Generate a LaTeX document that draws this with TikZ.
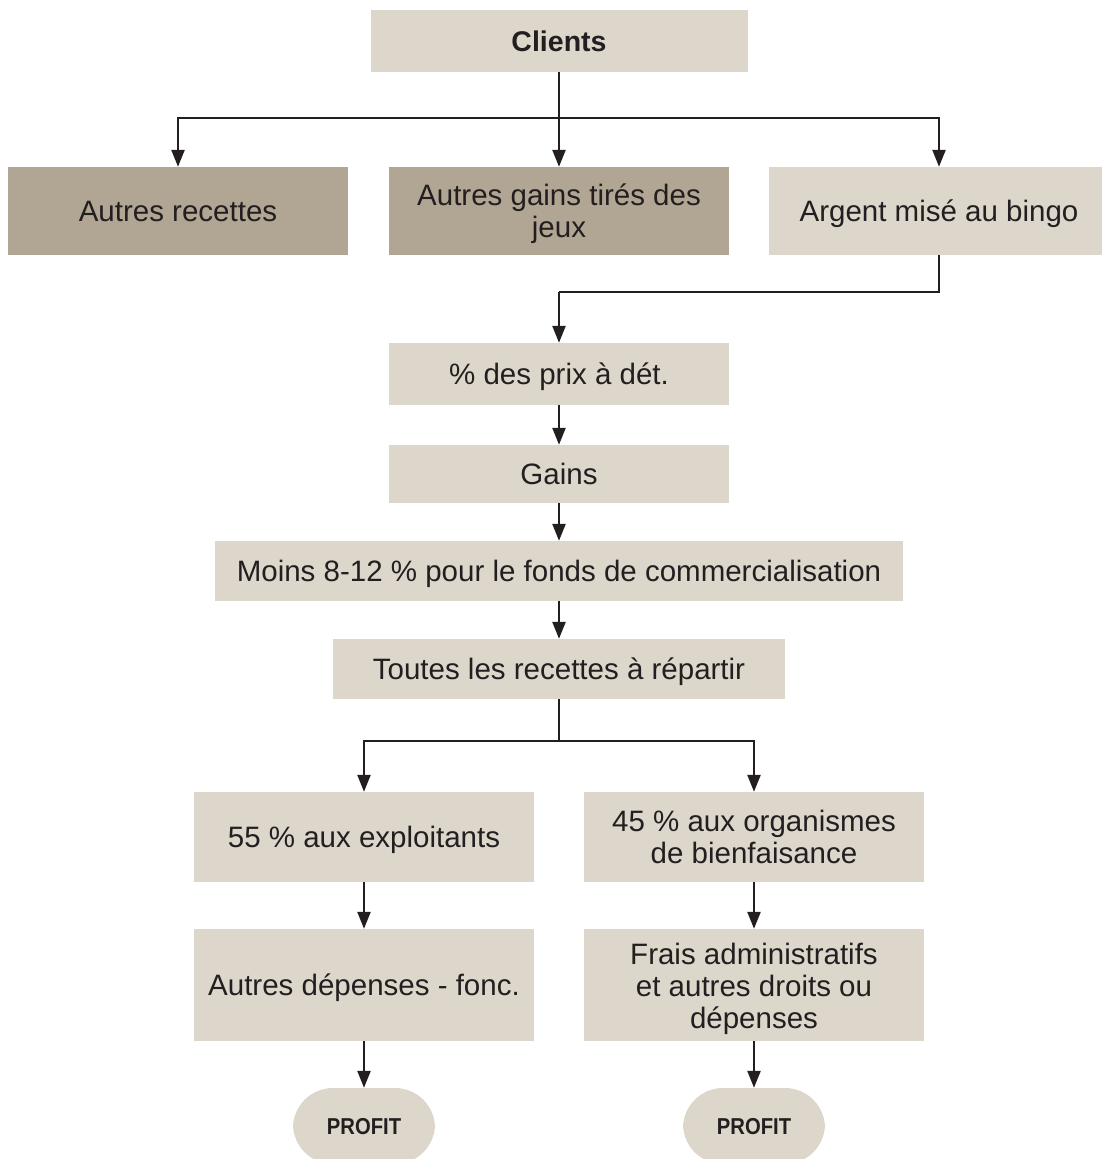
\documentclass[tikz,border=0pt]{standalone}
\usepackage{fontspec}
\setmainfont{Liberation Sans}
\usepackage{xcolor}
\usetikzlibrary{arrows.meta}

\definecolor{lightbox}{HTML}{DDD6CB}
\definecolor{darkbox}{HTML}{B1A694}
\definecolor{ink}{HTML}{231F20}

\begin{document}
\begin{tikzpicture}[x=1pt,y=-1pt]
    \tikzstyle{B}=[rectangle,fill=lightbox,inner sep=0pt,align=center,
        font=\fontsize{29.5}{32}\selectfont,text=ink,
        text height=21pt,text depth=0pt]
    \tikzstyle{D}=[B,fill=darkbox]
    \tikzstyle{two}=[text height=53pt]
    \tikzstyle{three}=[text height=87pt]
    \tikzstyle{P}=[rectangle,rounded corners=40pt,fill=lightbox,inner sep=0pt,
        minimum width=142pt,minimum height=76pt,
        text height=16pt,text depth=0pt,
        font=\fontsize{23}{24}\selectfont\bfseries,text=ink]
    \tikzstyle{arr}=[line width=2.4pt,draw=ink,-{Triangle[width=13pt,length=17pt]}]
    \tikzstyle{ln}=[line width=2.4pt,draw=ink]

    \useasboundingbox (0,0) rectangle (1101,1159);

    % Top
    \node [B,minimum width=377pt,minimum height=62pt,
        font=\fontsize{28.5}{32}\selectfont\bfseries] (clients) at (559,41) {Clients};

    \node [D,minimum width=340pt,minimum height=88pt] (recettes) at (178,211) {Autres recettes};
    \node [D,two,minimum width=340pt,minimum height=88pt] (jeux) at (559,211) {Autres gains tirés des\\jeux};
    \node [B,minimum width=340pt,minimum height=88pt] (bingo) at (939,211) {Argent misé au bingo};

    % Middle column
    \node [B,minimum width=340pt,minimum height=62pt] (prix) at (559,374) {\% des prix à dét.};
    \node [B,minimum width=340pt,minimum height=58pt] (gains) at (559,474) {Gains};
    \node [B,minimum width=688pt,minimum height=60pt] (fonds) at (559,571) {Moins 8-12 \% pour le fonds de commercialisation};
    \node [B,minimum width=452pt,minimum height=60pt] (toutes) at (559,669) {Toutes les recettes à répartir};

    % Two branches
    \node [B,minimum width=340pt,minimum height=90pt] (exploit) at (364,837) {55 \% aux exploitants};
    \node [B,two,minimum width=340pt,minimum height=90pt] (organ) at (754,837) {45 \% aux organismes\\de bienfaisance};
    \node [B,minimum width=340pt,minimum height=112pt] (depenses) at (364,985) {Autres dépenses - fonc.};
    \node [B,three,minimum width=340pt,minimum height=112pt] (frais) at (754,985) {Frais administratifs\\et autres droits ou\\dépenses};

    \node [P] (profitA) at (364,1126) {\scalebox{0.88}[1]{PROFIT}};
    \node [P] (profitB) at (754,1126) {\scalebox{0.88}[1]{PROFIT}};

    % Connectors
    \coordinate (s1) at (559,118);
    \coordinate (s2) at (559,292);
    \coordinate (s3) at (559,741);

    \draw [ln] (clients) -- (s1);
    \draw [arr] (s1) -| (recettes);
    \draw [arr] (s1) -| (bingo);
    \draw [arr] (clients) -- (jeux);

    \draw [ln] (bingo) |- (s2);
    \draw [arr] (s2) -- (prix);
    \draw [arr] (prix) -- (gains);
    \draw [arr] (gains) -- (fonds);
    \draw [arr] (fonds) -- (toutes);

    \draw [ln] (toutes) -- (s3);
    \draw [arr] (s3) -| (exploit);
    \draw [arr] (s3) -| (organ);
    \draw [arr] (exploit) -- (depenses);
    \draw [arr] (organ) -- (frais);
    \draw [arr] (depenses) -- (profitA);
    \draw [arr] (frais) -- (profitB);

\end{tikzpicture}
\end{document}
